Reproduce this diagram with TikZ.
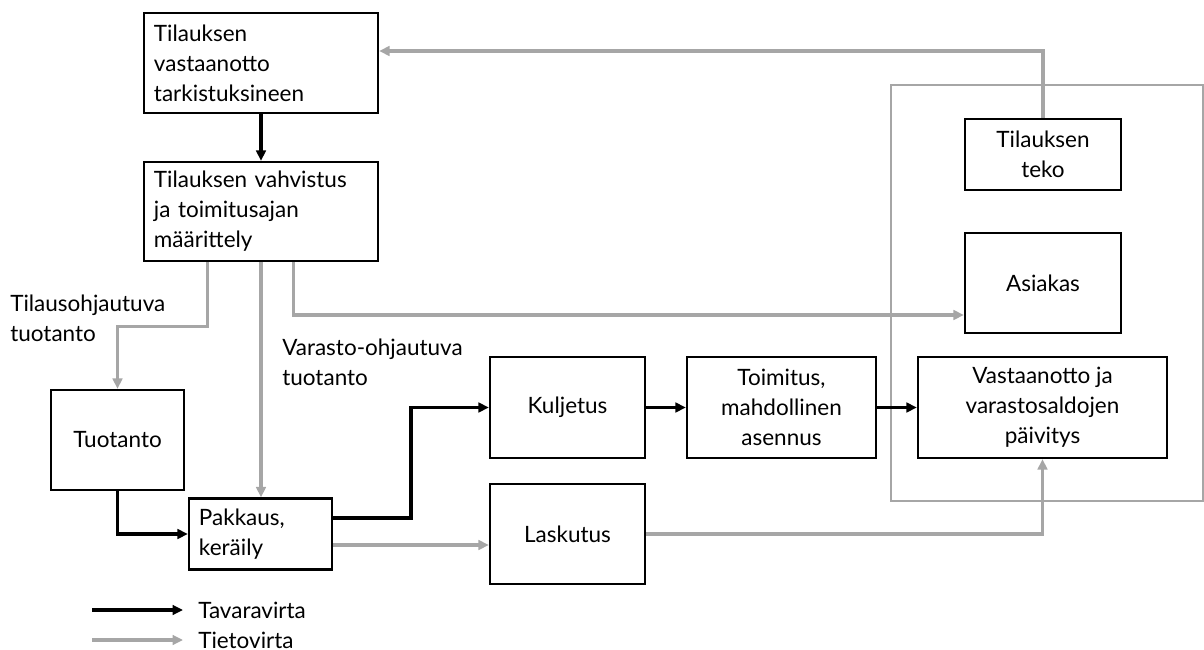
\documentclass[tikz,border=0pt]{standalone}
\usepackage{fontspec}
\setmainfont{Lato}
\usepackage{tikz}
\usetikzlibrary{
arrows.meta,
calc
}
\definecolor{flowgray}{RGB}{166,166,166}
\newcommand{\diagfont}{\fontsize{16pt}{21.3pt}\selectfont}

\tikzset{
  box/.style={draw, line width=1.6pt, align=center, font=\diagfont, inner sep=0pt},
  leftbox/.style={box, align=left, inner xsep=0.25cm},
  goods/.style={->, line width=2.6pt},
  info/.style={->, line width=2.2pt, flowgray},
  lbl/.style={font=\diagfont, align=left, inner sep=0pt}
}

\begin{document}
\begin{tikzpicture}[x=0.025cm, y=-0.025cm, >={Triangle[length=0.26cm, width=0.24cm]}]
\useasboundingbox (0,0) rectangle (1204,650);

% Customer frame
\draw[line width=2pt, flowgray] (891,85) rectangle (1203,501);

% Supplier side
\node[leftbox, text width=5.35cm, minimum height=2.5cm] (recv) at (261,63)
  {Tilauksen\\vastaanotto\\tarkistuksineen};
\node[leftbox, text width=5.35cm, minimum height=2.475cm] (conf) at (261,211.5)
  {Tilauksen vahvistus\\ja toimitusajan\\määrittely};
\node[box, minimum width=3.325cm, minimum height=2.5cm] (prod) at (117.5,440) {Tuotanto};
\node[leftbox, text width=3.075cm, minimum height=1.775cm] (pack) at (260.5,534)
  {Pakkaus,\\keräily};
\node[box, minimum width=3.875cm, minimum height=2.525cm] (trans) at (567.5,407.5) {Kuljetus};
\node[box, minimum width=3.875cm, minimum height=2.5cm] (bill) at (567.5,534) {Laskutus};
\node[box, minimum width=4.725cm, minimum height=2.525cm] (deliv) at (781.5,407.5)
  {Toimitus,\\mahdollinen\\asennus};

% Customer side
\node[box, minimum width=6.225cm, minimum height=2.525cm] (stock) at (1042.5,407.5)
  {Vastaanotto ja\\varastosaldojen\\päivitys};
\node[box, minimum width=3.9cm, minimum height=1.775cm] (order) at (1043,154.5)
  {Tilauksen\\teko};
\node[box, minimum width=3.9cm, minimum height=2.5cm] (cust) at (1043,283) {Asiakas};

% Side labels
\node[lbl, anchor=west] (mto) at (10,318) {Tilausohjautuva\\tuotanto};
\node[lbl, anchor=west] (mts) at (282,362) {Varasto-ohjautuva\\tuotanto};

% Goods flow
\draw[goods] (recv) -- (conf);
\draw[goods] (prod.south) |- (pack.west);
\draw[goods] ($(pack.east)+(0,-16)$) -| ($(pack.east)!0.5!(trans.west)$) |- (trans.west);
\draw[goods] (trans) -- (deliv);
\draw[goods] (deliv) -- (stock);

% Information flow
\draw[info] (order.north) |- ($(recv.east)+(0,-12)$);
\draw[info] ($(conf.south west)+(65,0)$) -- ++(0,64) -| (prod.north);
\draw[info] (conf.south) -- (conf.south |- pack.north);
\draw[info] ($(conf.south west)+(151,0)$) |- ($(cust.west)+(0,32)$);
\draw[info] ($(pack.east)+(0,11)$) -- ($(bill.west)+(0,11)$);
\draw[info] (bill.east) -| (stock.south);

% Legend
\node[lbl, anchor=west] (legGoods) at (198,610) {Tavaravirta};
\node[lbl, anchor=west] (legInfo) at (198,640) {Tietovirta};
\coordinate (legGoodsStart) at (92,610);
\coordinate (legInfoStart) at (92,640);
\draw[goods] (legGoodsStart) -- ($(legGoods.west)+(-15,0)$);
\draw[info] (legInfoStart) -- ($(legInfo.west)+(-15,0)$);

\end{tikzpicture}
\end{document}
